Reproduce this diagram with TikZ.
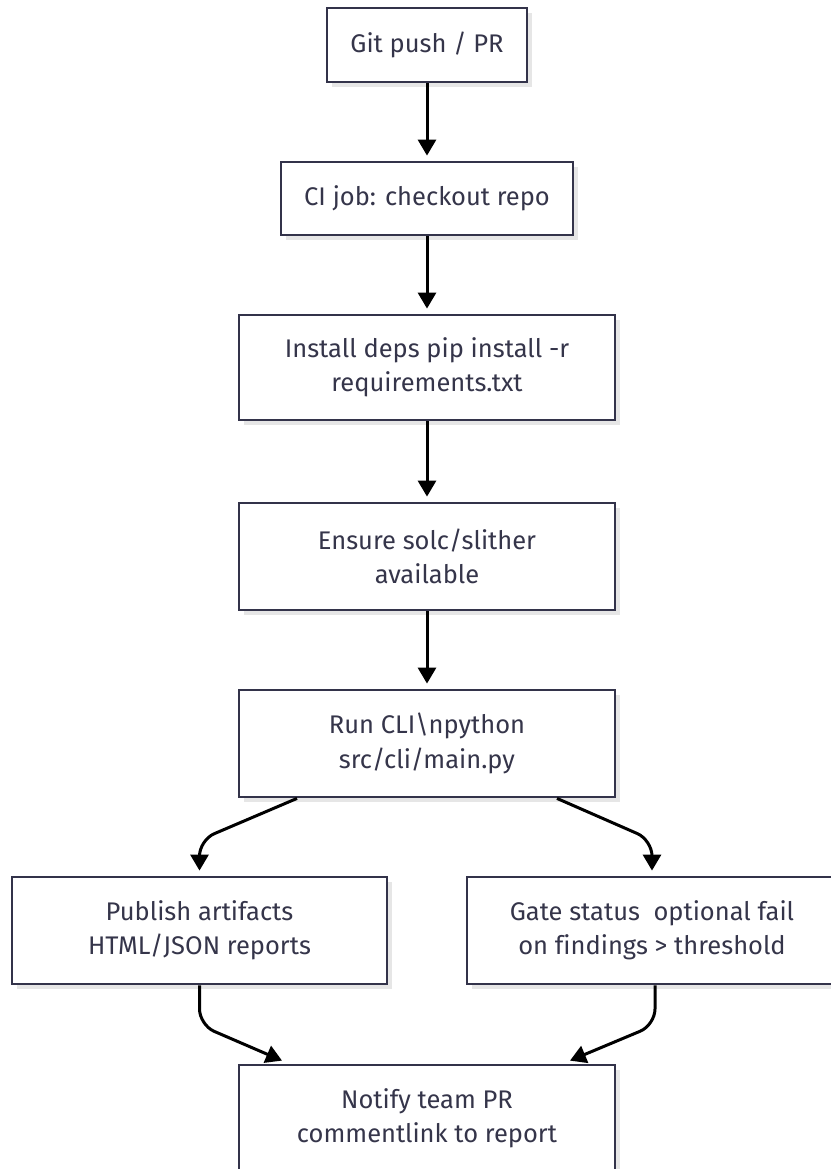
\documentclass[tikz,border=0pt]{standalone}
\usepackage{fontspec}
\setmainfont{Fira Sans}[Ligatures=NoCommon]
\usetikzlibrary{arrows.meta,shadows,positioning,calc}
\definecolor{boxline}{HTML}{33334A}
\definecolor{boxtext}{HTML}{35354A}
\definecolor{shade}{HTML}{E6E6E6}
\begin{document}
\begin{tikzpicture}[x=1pt,y=-1pt,
  flowbox/.style={draw=boxline, line width=2.8pt, fill=white, rectangle,
    inner sep=0pt, align=center, text=boxtext,
    font=\fontsize{25.5}{34.5}\selectfont,
    general shadow={shadow xshift=5pt, shadow yshift=-5pt, fill=shade}},
  flowarrow/.style={draw=black, line width=3pt,
    -{Triangle[length=16pt,width=18pt]}, shorten >=5pt},
  curvearrow/.style={flowarrow, rounded corners=16pt}]
\useasboundingbox (0,0) rectangle (830,1169);
\fill[white] (0,0) rectangle (830,1169);

\node[flowbox, minimum width=200pt, minimum height=74pt] (n1) at (427,45) {Git push / PR};
\node[flowbox, minimum width=292pt, minimum height=73pt] (n2) at (427,198.5) {CI job: checkout repo};
\node[flowbox, minimum width=376pt, minimum height=105pt] (n3) at (427,367.5) {Install deps pip install -r\\requirements.txt};
\node[flowbox, minimum width=376pt, minimum height=107pt] (n4) at (427,556.5) {Ensure solc/slither\\available};
\node[flowbox, minimum width=376pt, minimum height=107pt] (n5) at (427,743.5) {Run CLI\textbackslash npython\\src/cli/main.py};
\node[flowbox, minimum width=375pt, minimum height=107pt] (n6) at (199.5,930.5) {Publish artifacts\\HTML/JSON reports};
\node[flowbox, minimum width=370pt, minimum height=107pt] (n7) at (652,930.5) {Gate status~ optional fail\\on findings > threshold};
\node[flowbox, minimum width=376pt, minimum height=107pt] (n8) at (427,1118.5) {Notify team PR\\commentlink to report};

\draw[flowarrow] (n1.south) -- (n2.north);
\draw[flowarrow] (n2.south) -- (n3.north);
\draw[flowarrow] (n3.south) -- (n4.north);
\draw[flowarrow] (n4.south) -- (n5.north);

\coordinate (c5l) at ([xshift=-130pt]n5.south);
\coordinate (c5r) at ([xshift=130pt]n5.south);
\draw[curvearrow] (c5l) -- (n6.north |- 0,840) -- (n6.north);
\draw[curvearrow] (c5r) -- (n7.north |- 0,840) -- (n7.north);

\coordinate (c8l) at ([xshift=-145pt]n8.north);
\coordinate (c8r) at ([xshift=143pt]n8.north);
\coordinate (c6b) at ([xshift=0pt]n6.south);
\coordinate (c7b) at ([xshift=3pt]n7.south);
\draw[curvearrow, shorten >=0pt] (c6b) -- (c6b |- 0,1025) -- ([yshift=3pt]c8l);
\draw[curvearrow, shorten >=0pt] (c7b) -- (c7b |- 0,1025) -- ([yshift=3pt]c8r);
\end{tikzpicture}
\end{document}
